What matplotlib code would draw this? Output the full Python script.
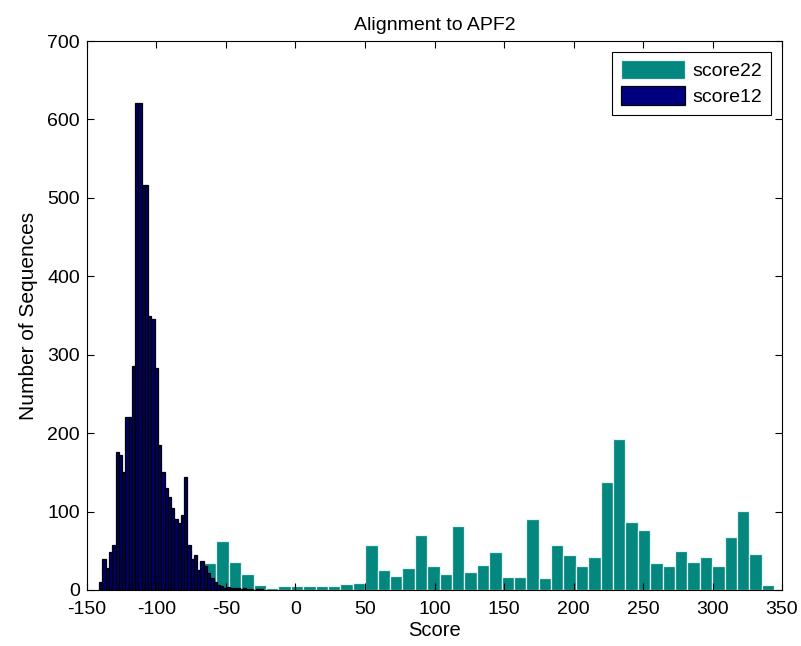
import numpy as np
import matplotlib
matplotlib.use("Agg")
import matplotlib.pyplot as plt

plt.rcParams['font.family'] = ['Liberation Sans', 'DejaVu Sans']
plt.rcParams['axes.unicode_minus'] = False

# score22 histogram (teal): 54 bins of equal width
score22_lo = -137.24
score22_width = 8.92
score22_counts = [2, 8, 15, 20, 13, 13, 50, 20,
                  35, 62, 36, 21, 7, 3, 5, 5, 5, 5, 5, 8, 9,
                  58, 25, 18, 28, 70, 30, 21,
                  81, 23, 32, 48, 17, 17, 91, 15, 58, 44, 30, 42, 138,
                  193, 87, 77, 34, 30, 50, 36, 42, 30, 67, 101, 46, 7]

# score12 histogram (navy): 50 bins of equal width
score12_lo = -141.2
score12_width = 2.35
score12_counts = [10, 40, 28, 49, 57, 176, 172, 150, 220, 220,
                  285, 621, 621, 517, 517, 350, 345, 283, 185, 150,
                  130, 118, 105, 90, 85, 95, 144, 58, 40, 45,
                  25, 37, 30, 22, 15, 10, 6, 5, 3, 4,
                  2, 3, 2, 1, 2, 1, 1, 0, 1, 1]

xticks = np.arange(-150, 351, 50)
yticks = np.arange(0, 701, 100)

fig = plt.figure(figsize=(8.01, 6.46), dpi=100)
ax = fig.add_axes([0.1086, 0.0867, 0.8677, 0.8498])

left22 = score22_lo + score22_width * np.arange(len(score22_counts))
left12 = score12_lo + score12_width * np.arange(len(score12_counts))

ax.bar(left22, score22_counts, width=score22_width, align='edge',
       color='#03877F', edgecolor='#E6F4F2', linewidth=0.9, label='score22')
ax.bar(left12, score12_counts, width=score12_width, align='edge',
       color='#000068', edgecolor='black', linewidth=0.9, label='score12')

ax.set_xlim(-150, 350)
ax.set_ylim(0, 700)
ax.set_xticks(xticks)
ax.set_yticks(yticks)
ax.tick_params(direction='in', top=True, right=True, length=5, width=0.8,
               labelsize=14)
ax.tick_params(axis='x', pad=8)
ax.tick_params(axis='y', pad=5)
for sp in ax.spines.values():
    sp.set_linewidth(0.8)

ax.set_title("Alignment to APF2", fontsize=14, pad=8)
ax.set_xlabel("Score", fontsize=14.5, labelpad=2)
ax.set_ylabel("Number of Sequences", fontsize=15, labelpad=7)

leg = ax.legend(loc='upper right', fontsize=14, handlelength=3.3, handleheight=1.1,
                fancybox=False, framealpha=1, edgecolor='black',
                borderaxespad=0.55, borderpad=0.45, labelspacing=0.3, handletextpad=0.4)
leg.get_frame().set_linewidth(0.8)
leg.legend_handles[1].set_facecolor('#00007F')

fig.savefig("out.png", dpi=100)
